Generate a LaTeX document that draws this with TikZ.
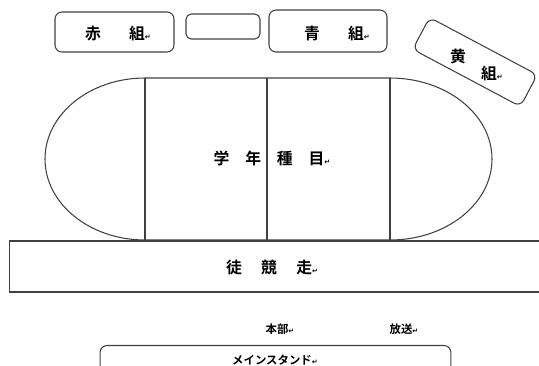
\documentclass[tikz,border=0pt]{standalone}
\usepackage{fontspec}
\newfontfamily\jpfont{Noto Sans CJK JP}[BoldFont={Noto Sans CJK JP Bold}]
\newfontfamily\symfont{DejaVu Sans}
\newcommand{\retmark}{{\symfont\fontsize{4}{4}\selectfont ↵}}
\usetikzlibrary{positioning}

\begin{document}
\begin{tikzpicture}[
    x=0.02cm, y=0.02cm,
    line width=0.6pt,
    team/.style={rectangle, draw=black!75, rounded corners=4pt, inner sep=0pt},
    biglabel/.style={font=\jpfont\bfseries\fontsize{9}{10}\selectfont, inner sep=0pt},
    smalllabel/.style={font=\jpfont\bfseries\fontsize{6.5}{7}\selectfont, inner sep=0pt},
    trackline/.style={draw=black!75}
]

\useasboundingbox (0,0) rectangle (539,-366);
\clip (0,0) rectangle (539,-366);

% Team boxes
\node[team, minimum width=2.38cm, minimum height=0.8cm] (red) at (114.5,-32) {};
\node[team, rounded corners=3pt, minimum width=1.48cm, minimum height=0.5cm] (blank) at (223,-26.5) {};
\node[team, minimum width=2.36cm, minimum height=0.84cm] (blue) at (328,-31) {};
\node[team, minimum width=2.44cm, minimum height=0.72cm, rotate=-28] (yellow) at (475,-62) {};

\node[biglabel] (redlbl) at (118,-34) {赤\hspace{16pt}組\retmark};
\node[biglabel] (bluelbl) at (337,-33) {青\hspace{16pt}組\retmark};
\node[biglabel] (yellowA) at (458,-57) {黄};
\node[biglabel] (yellowB) at (492,-73) {組\retmark};

% Track
\draw[trackline] (145,-78) -- (390,-78)
    arc[start angle=90, end angle=-90, x radius=102, y radius=81]
    -- (145,-240)
    arc[start angle=270, end angle=90, x radius=100, y radius=81] -- cycle;
\foreach \xx in {145,267,390}
  \draw[trackline] (\xx,-78) -- (\xx,-240);

\node[biglabel] (grade) at (272,-158) {学\hspace{9pt}年\hspace{9pt}種\hspace{9pt}目\retmark};

% Race lane
\node[rectangle, draw=black!75, minimum width=10.72cm, minimum height=1.02cm, inner sep=0pt] (lane) at (277,-266.5) {};
\node[biglabel] (race) at (272,-268) {徒\hspace{11pt}競\hspace{11pt}走\retmark};

% Headquarters and broadcast
\node[smalllabel] (hq) at (280,-329) {本部\retmark};
\node[smalllabel] (pa) at (404,-329) {放送\retmark};

% Main stand
\node[team, minimum width=7.02cm, minimum height=0.62cm] (stand) at (275.5,-361) {};
\node[smalllabel] (standlbl) at (275,-360) {メインスタンド\retmark};

\end{tikzpicture}
\end{document}
